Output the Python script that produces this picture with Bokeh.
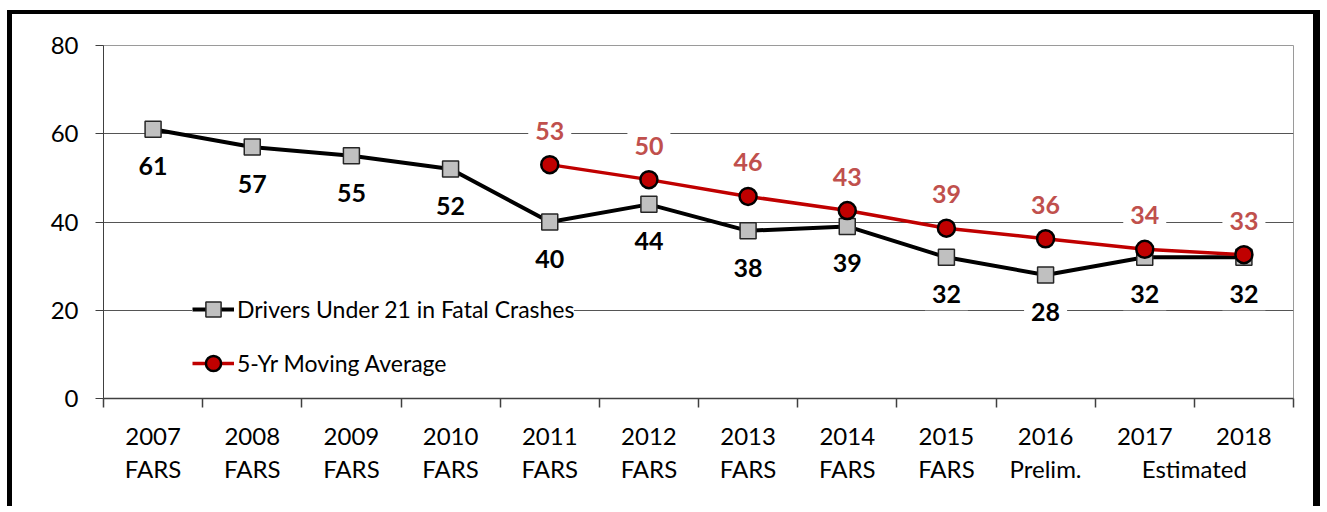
from bokeh.plotting import figure
from bokeh.models import (ColumnDataSource, FixedTicker, LinearAxis, Legend,
                          LegendItem, Range1d)
from bokeh.embed import file_html
from bokeh.resources import INLINE
from bokeh.core.properties import value

# ---------------- data ----------------
years = ["2007", "2008", "2009", "2010", "2011", "2012",
         "2013", "2014", "2015", "2016", "2017", "2018"]
# second line of each category label (None = shared with the previous year)
year_sources = ["FARS", "FARS", "FARS", "FARS", "FARS", "FARS",
                "FARS", "FARS", "FARS", "Prelim.", "Estimated", None]
drivers = [61, 57, 55, 52, 40, 44, 38, 39, 32, 28, 32, 32]
ma_years = ["2011", "2012", "2013", "2014", "2015", "2016", "2017", "2018"]
moving_avg = [53.0, 49.6, 45.8, 42.6, 38.6, 36.2, 33.8, 32.6]
y_ticks = [0, 20, 40, 60, 80]
series_names = ["Drivers Under 21 in Fatal Crashes", "5-Yr Moving Average"]

FONT = "Lato"

# ---------------- positions from categories ----------------
xi = {y: i for i, y in enumerate(years)}
x_drv = [xi[y] for y in years]
x_ma = [xi[y] for y in ma_years]

sub_pos, sub_lab = [], []
for i, lab in enumerate(year_sources):
    if lab is None:
        continue
    j = i
    while j + 1 < len(year_sources) and year_sources[j + 1] is None:
        j += 1
    sub_pos.append((i + j) / 2)
    sub_lab.append(lab)

src_d = ColumnDataSource(dict(x=x_drv, y=drivers, t=[str(v) for v in drivers]))
src_m = ColumnDataSource(dict(x=x_ma, y=moving_avg, t=[str(int(round(v + 1e-9))) for v in moving_avg]))

p = figure(width=1301, height=492, output_backend="svg", toolbar_location=None,
           x_range=Range1d(-0.5, len(years) - 0.5), y_range=Range1d(0, 80),
           min_border_left=91, min_border_right=32, min_border_top=31,
           min_border_bottom=112,
           styles={"box-sizing": "content-box",
                   "margin-left": "7px", "margin-top": "10px",
                   "border-top": "4px solid black", "border-left": "5px solid black",
                   "border-right": "7px solid black"})
p.outline_line_color = "#9a9a9a"
p.outline_line_width = 1

# grid
p.xgrid.grid_line_color = None
p.ygrid.ticker = FixedTicker(ticks=y_ticks)
p.ygrid.grid_line_color = "#555555"
p.ygrid.grid_line_width = 1

# y axis
p.yaxis.ticker = FixedTicker(ticks=y_ticks)
p.yaxis.major_tick_out = 8
p.yaxis.major_tick_in = 0
p.yaxis.minor_tick_line_color = None
p.yaxis.axis_line_color = "#404040"
p.yaxis.major_tick_line_color = "#404040"
p.yaxis.major_label_text_font = FONT
p.yaxis.major_label_text_font_size = "24px"
p.yaxis.major_label_text_color = "black"
p.yaxis.major_label_standoff = 17

# x axis (years) with boundary ticks
xa = p.xaxis[0]
xa.ticker = FixedTicker(ticks=list(range(len(years))),
                        minor_ticks=[i - 0.5 for i in range(len(years) + 1)])
xa.major_label_overrides = {i: y for i, y in enumerate(years)}
xa.major_tick_in = 0
xa.major_tick_out = 0
xa.minor_tick_in = 0
xa.minor_tick_out = 9
xa.minor_tick_line_color = "#404040"
xa.minor_tick_line_width = 1.5
xa.axis_line_color = "#404040"
xa.axis_line_width = 1.5
xa.major_label_text_font = FONT
xa.major_label_text_font_size = "24px"
xa.major_label_text_color = "black"
xa.major_label_standoff = 20

# second line of x labels
xa2 = LinearAxis(ticker=FixedTicker(ticks=sub_pos),
                 major_label_overrides={pos: lab for pos, lab in zip(sub_pos, sub_lab)},
                 axis_line_color=None, major_tick_line_color=None,
                 minor_tick_line_color=None,
                 major_label_text_font=FONT, major_label_text_font_size="24px",
                 major_label_text_color="black", major_label_standoff=0)
p.add_layout(xa2, "below")

# series
l1 = p.line("x", "y", source=src_d, line_color="black", line_width=4)
s1 = p.scatter("x", "y", source=src_d, marker="square", size=16,
               fill_color="#c0c0c0", line_color="#262626", line_width=1.5)
l2 = p.line("x", "y", source=src_m, line_color="#c00000", line_width=3.5)
s2 = p.scatter("x", "y", source=src_m, marker="circle", size=17,
               fill_color="#c00000", line_color="black", line_width=2.5)

# data labels
p.text("x", "y", text="t", source=src_d, y_offset=37, text_align="center",
       text_baseline="middle", text_font=value(FONT), text_font_style="bold",
       text_font_size="25px", text_color="black",
       background_fill_color="white", padding=7)
p.text("x", "y", text="t", source=src_m, y_offset=-34, text_align="center",
       text_baseline="middle", text_font=value(FONT), text_font_style="bold",
       text_font_size="25px", text_color="#c0504d",
       background_fill_color="white", padding=7)

legend = Legend(items=[LegendItem(label=series_names[0], renderers=[l1, s1]),
                       LegendItem(label=series_names[1], renderers=[l2, s2])],
                location=(89, 16), glyph_width=42, glyph_height=38, spacing=16,
                padding=15, margin=0, label_standoff=3,
                label_text_font=FONT, label_text_font_size="23px",
                label_text_color="black",
                background_fill_color="white", background_fill_alpha=1,
                border_line_color=None)
p.add_layout(legend)

open("out.html", "w").write(file_html(p, INLINE))
